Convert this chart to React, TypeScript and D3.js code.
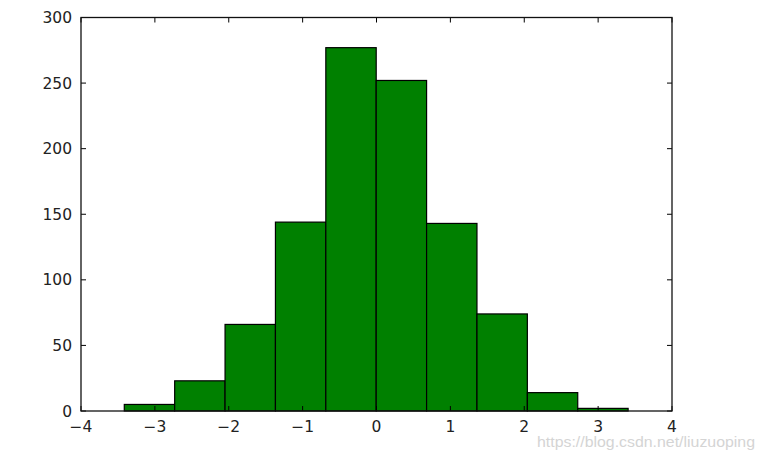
import React from "react";
import * as d3 from "d3";

const binStart = -3.414;
const binWidth = 0.682;
const counts = [5, 23, 66, 144, 277, 252, 143, 74, 14, 2];
const xTicks = [-4, -3, -2, -1, 0, 1, 2, 3, 4];
const yTicks = [0, 50, 100, 150, 200, 250, 300];
const watermark = "https://blog.csdn.net/liuzuoping";

const W = 764;
const H = 459;
const L = 81, R = 672, T = 17.5, B = 411;

export default function App() {
  const x = d3.scaleLinear().domain([-4, 4]).range([L, R]);
  const y = d3.scaleLinear().domain([0, 300]).range([B, T]);
  const bins = counts.map((c, i) => ({ x0: binStart + i * binWidth, x1: binStart + (i + 1) * binWidth, c }));
  const font = "'DejaVu Sans', sans-serif";
  const minus = (v: number) => (v < 0 ? "\u2212" + Math.abs(v) : String(v));
  return (
    <svg width={W} height={H} style={{ position: "absolute", left: 0, top: 0, background: "#fff" }}>
      <rect x={0} y={0} width={W} height={H} fill="#fff" />
      {bins.map((b, i) => (
        <rect key={i} x={x(b.x0)} y={y(b.c)} width={x(b.x1) - x(b.x0)} height={y(0) - y(b.c)}
          fill="#008000" stroke="#000" strokeWidth={1.2} />
      ))}
      {xTicks.map((t) => (
        <g key={"x" + t}>
          <line x1={x(t)} x2={x(t)} y1={B} y2={B - 5} stroke="#000" strokeWidth={1} />
          <line x1={x(t)} x2={x(t)} y1={T} y2={T + 5} stroke="#000" strokeWidth={1} />
          <text x={x(t)} y={432} textAnchor="middle" fontFamily={font} fontSize={15.5} fill="#222">{minus(t)}</text>
        </g>
      ))}
      {yTicks.map((t) => (
        <g key={"y" + t}>
          <line x1={L} x2={L + 5} y1={y(t)} y2={y(t)} stroke="#000" strokeWidth={1} />
          <line x1={R} x2={R - 5} y1={y(t)} y2={y(t)} stroke="#000" strokeWidth={1} />
          <text x={72} y={y(t)} dy="0.36em" textAnchor="end" fontFamily={font} fontSize={15.5} fill="#222">{t}</text>
        </g>
      ))}
      <rect x={L} y={T} width={R - L} height={B - T} fill="none" stroke="#111" strokeWidth={1.3} />
      <text x={537} y={447} fontFamily="'Liberation Sans', Arial, sans-serif" fontSize={14.5} fill="#d4d4d4"
        textLength={218} lengthAdjust="spacingAndGlyphs">{watermark}</text>
    </svg>
  );
}
